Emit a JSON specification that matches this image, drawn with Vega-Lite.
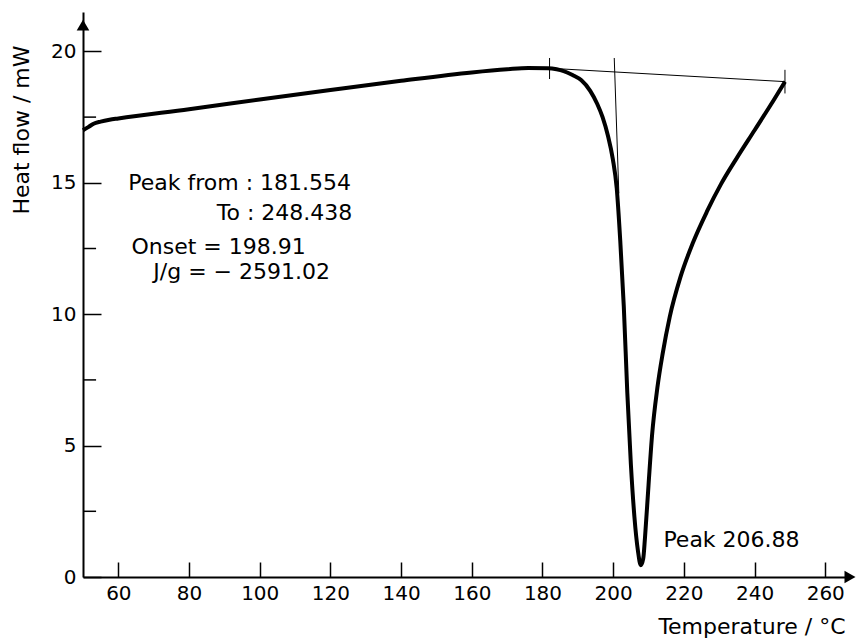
{
  "$schema": "https://vega.github.io/schema/vega-lite/v6.json",
  "width": 767,
  "height": 565,
  "autosize": "none",
  "padding": {"left": 83, "top": 12, "right": 15, "bottom": 67},
  "background": "white",
  "config": {
    "view": {"stroke": null},
    "font": "DejaVu Sans",
    "axis": {"grid": false, "domainColor": "black", "domainWidth": 2, "tickColor": "black", "tickWidth": 1.5, "labelColor": "black", "labelFontSize": 20, "labelFont": "DejaVu Sans", "titleFont": "DejaVu Sans", "titleFontSize": 22, "titleFontWeight": "normal", "titleColor": "black"}
  },
  "datasets": {
    "curve": [
      {"T": 50, "HF": 17.0}, {"T": 51.5, "HF": 17.12}, {"T": 53, "HF": 17.25}, {"T": 55, "HF": 17.33}, {"T": 57.5, "HF": 17.4}, {"T": 60, "HF": 17.45},
      {"T": 80, "HF": 17.8}, {"T": 100, "HF": 18.17}, {"T": 120, "HF": 18.53}, {"T": 140, "HF": 18.88}, {"T": 160, "HF": 19.2},
      {"T": 170, "HF": 19.32}, {"T": 176, "HF": 19.37}, {"T": 181.5, "HF": 19.36}, {"T": 184, "HF": 19.32}, {"T": 186, "HF": 19.25},
      {"T": 188.5, "HF": 19.1}, {"T": 191, "HF": 18.9}, {"T": 193.5, "HF": 18.5}, {"T": 195.5, "HF": 18.0}, {"T": 197, "HF": 17.5},
      {"T": 198.5, "HF": 16.8}, {"T": 199.9, "HF": 15.9}, {"T": 201, "HF": 14.8}, {"T": 202, "HF": 12.8}, {"T": 203, "HF": 10.3},
      {"T": 204, "HF": 7.0}, {"T": 205, "HF": 4.3}, {"T": 206, "HF": 2.3}, {"T": 207, "HF": 1.0}, {"T": 207.8, "HF": 0.45},
      {"T": 208.5, "HF": 0.7}, {"T": 209, "HF": 1.5}, {"T": 210, "HF": 3.5}, {"T": 211, "HF": 5.4}, {"T": 212.5, "HF": 7.2},
      {"T": 214, "HF": 8.5}, {"T": 216, "HF": 9.9}, {"T": 219, "HF": 11.4}, {"T": 222.5, "HF": 12.7}, {"T": 226.5, "HF": 13.9},
      {"T": 230.5, "HF": 14.95}, {"T": 235, "HF": 15.95}, {"T": 240, "HF": 17.0}, {"T": 244.5, "HF": 17.95}, {"T": 248.6, "HF": 18.85}
    ]
  },
  "layer": [
    {
      "data": {"name": "curve"},
      "mark": {"type": "line", "color": "black", "strokeWidth": 4, "interpolate": "monotone"},
      "encoding": {
        "x": {"field": "T", "type": "quantitative", "scale": {"domain": [50, 267], "nice": false}, "axis": {"values": [60, 80, 100, 120, 140, 160, 180, 200, 220, 240, 260], "tickSize": -15, "labelPadding": 21, "title": "Temperature / °C", "titleAnchor": "end", "titleAlign": "right", "titleBaseline": "middle", "titleX": 762, "titleY": 49}},
        "y": {"field": "HF", "type": "quantitative", "scale": {"domain": [0, 21.5], "nice": false}, "axis": {"values": [0, 5, 10, 15, 20], "tickSize": -18, "labelPadding": 25, "title": "Heat flow / mW", "titleAngle": -90, "titleAlign": "right", "titleBaseline": "middle", "titleX": -62, "titleY": 33}}
      }
    },
    {
      "data": {"values": [{"v": 2.5}, {"v": 7.5}, {"v": 12.5}, {"v": 17.5}]},
      "mark": {"type": "rule", "color": "black", "strokeWidth": 1.5},
      "encoding": {"y": {"field": "v", "type": "quantitative"}, "x": {"datum": 50}, "x2": {"datum": 53.7}}
    },
    {
      "data": {"values": [{"T": 182, "HF": 19.36}, {"T": 248.6, "HF": 18.85}]},
      "mark": {"type": "line", "color": "black", "strokeWidth": 1},
      "encoding": {"x": {"field": "T", "type": "quantitative"}, "y": {"field": "HF", "type": "quantitative"}}
    },
    {
      "data": {"values": [{"T": 182, "a": 19.75, "b": 18.95}, {"T": 248.6, "a": 19.3, "b": 18.4}]},
      "mark": {"type": "rule", "color": "black", "strokeWidth": 1},
      "encoding": {"x": {"field": "T", "type": "quantitative"}, "y": {"field": "a", "type": "quantitative"}, "y2": {"field": "b"}}
    },
    {
      "data": {"values": [{"T": 200.3, "HF": 19.75}, {"T": 201.6, "HF": 14.6}]},
      "mark": {"type": "line", "color": "black", "strokeWidth": 1},
      "encoding": {"x": {"field": "T", "type": "quantitative"}, "y": {"field": "HF", "type": "quantitative"}}
    },
    {
      "data": {"values": [{"T": 267, "HF": 0}]},
      "mark": {"type": "point", "shape": "triangle-right", "filled": true, "color": "black", "size": 160, "opacity": 1},
      "encoding": {"x": {"field": "T", "type": "quantitative"}, "y": {"field": "HF", "type": "quantitative"}}
    },
    {
      "data": {"values": [{"T": 50, "HF": 21.0}]},
      "mark": {"type": "point", "shape": "triangle-up", "filled": true, "color": "black", "size": 160, "opacity": 1},
      "encoding": {"x": {"field": "T", "type": "quantitative"}, "y": {"field": "HF", "type": "quantitative"}}
    },
    {
      "data": {"values": [
        {"T": 62.8, "HF": 15.0, "label": "Peak from : 181.554"},
        {"T": 63.7, "HF": 12.55, "label": "Onset = 198.91"},
        {"T": 69.9, "HF": 11.6, "label": "J/g = − 2591.02"},
        {"T": 214.2, "HF": 1.4, "label": "Peak 206.88"}
      ]},
      "mark": {"type": "text", "align": "left", "baseline": "middle", "fontSize": 22, "color": "black"},
      "encoding": {"x": {"field": "T", "type": "quantitative"}, "y": {"field": "HF", "type": "quantitative"}, "text": {"field": "label"}}
    },
    {
      "data": {"values": [{"T": 126.2, "HF": 13.85, "label": "To : 248.438"}]},
      "mark": {"type": "text", "align": "right", "baseline": "middle", "fontSize": 22, "color": "black"},
      "encoding": {"x": {"field": "T", "type": "quantitative"}, "y": {"field": "HF", "type": "quantitative"}, "text": {"field": "label"}}
    }
  ]
}
